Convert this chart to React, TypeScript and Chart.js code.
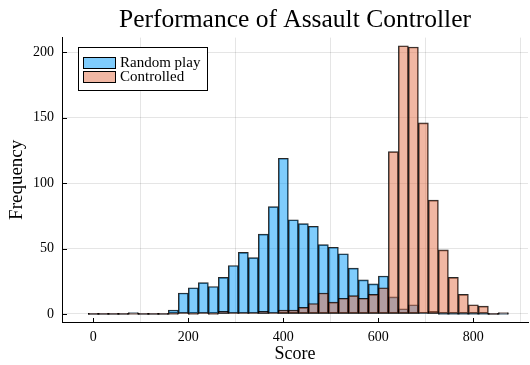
import React, { useEffect, useRef } from "react";
import { Chart, registerables } from "chart.js";
Chart.register(...registerables);

const FONT = "'Liberation Serif', 'Times New Roman', serif";

// Bin centres (bin width = 400/19)
const binCenters = [
  0, 21.05, 42.11, 63.16, 84.21, 105.26, 126.32, 147.37, 168.42, 189.47,
  210.53, 231.58, 252.63, 273.68, 294.74, 315.79, 336.84, 357.89, 378.95, 400,
  421.05, 442.11, 463.16, 484.21, 505.26, 526.32, 547.37, 568.42, 589.47, 610.53,
  631.58, 652.63, 673.68, 694.74, 715.79, 736.84, 757.89, 778.95, 800, 821.05,
  842.11, 863.16,
];

const randomPlay = [
  0, 0, 0, 0, 1, 0, 0, 0, 3, 16,
  20, 24, 21, 28, 37, 47, 43, 61, 82, 119,
  72, 69, 67, 53, 51, 46, 35, 26, 23, 29,
  13, 4, 7, 1, 2, 0, 0, 0, 0, 0,
  0, 0,
];

const controlled = [
  0, 0, 0, 0, 0, 0, 0, 0, 0, 1,
  0, 1, 0, 2, 1, 1, 1, 2, 1, 3,
  3, 5, 8, 16, 9, 12, 14, 12, 15, 20,
  124, 205, 204, 146, 87, 49, 28, 15, 7, 6,
  0, 1,
];

const xTicks = [0, 200, 400, 600, 800];
const yTicks = [0, 50, 100, 150, 200];

const seriesLabels = ["Random play", "Controlled"];
const fillColors = ["rgba(0,154,250,0.5)", "rgba(227,111,71,0.5)"];

export default function App() {
  const ref = useRef<HTMLCanvasElement>(null);
  useEffect(() => {
    if (!ref.current) return;
    const innerTicks = {
      id: "innerTicks",
      afterDatasetsDraw(chart: any) {
        const { ctx, chartArea, scales } = chart;
        ctx.save();
        ctx.strokeStyle = "#000";
        ctx.lineWidth = 1;
        ctx.beginPath();
        for (const t of xTicks) {
          const px = Math.round(scales.x.getPixelForValue(t)) + 0.5;
          ctx.moveTo(px, chartArea.bottom);
          ctx.lineTo(px, chartArea.bottom - 4);
        }
        for (const t of yTicks) {
          const py = Math.round(scales.y.getPixelForValue(t)) + 0.5;
          ctx.moveTo(chartArea.left, py);
          ctx.lineTo(chartArea.left + 5, py);
        }
        ctx.stroke();
        // legend
        const bx = 78.5, by = 47.5, bw = 129, bh = 43;
        ctx.fillStyle = "#fff";
        ctx.fillRect(bx, by, bw, bh);
        ctx.strokeStyle = "#000";
        ctx.strokeRect(bx, by, bw, bh);
        ctx.font = `15px ${FONT}`;
        ctx.textBaseline = "middle";
        ctx.textAlign = "left";
        seriesLabels.forEach((lab, i) => {
          const sy = 57.5 + i * 14;
          ctx.fillStyle = "#fff";
          ctx.fillRect(83.5, sy, 32, 11);
          ctx.fillStyle = fillColors[i];
          ctx.fillRect(83.5, sy, 32, 11);
          ctx.strokeStyle = "#000";
          ctx.strokeRect(83.5, sy, 32, 11);
          ctx.fillStyle = "#000";
          ctx.fillText(lab, 120, sy + 6);
        });
        ctx.restore();
      },
    };

    const mk = (arr: number[]) => binCenters.map((x, i) => ({ x, y: arr[i] }));

    const common = {
      borderColor: "rgba(0,0,0,0.85)",
      borderWidth: 1,
      borderSkipped: false,
      grouped: false,
      barPercentage: 1,
      categoryPercentage: 1,
      minBarLength: 1,
    };

    const chart = new Chart(ref.current, {
      type: "bar",
      data: {
        datasets: [
          {
            ...common,
            label: seriesLabels[0],
            data: mk(randomPlay),
            backgroundColor: fillColors[0],
            order: 2,
          } as any,
          {
            ...common,
            label: seriesLabels[1],
            data: mk(controlled),
            backgroundColor: fillColors[1],
            order: 1,
          } as any,
        ],
      },
      options: {
        responsive: false,
        animation: false,
        layout: { padding: { left: 0, right: 2, top: 0, bottom: 0 } },
        plugins: {
          legend: { display: false },
          tooltip: { enabled: false },
          title: {
            display: true,
            text: "Performance of Assault Controller",
            fullSize: false,
            color: "#000",
            font: { family: FONT, size: 25.5, weight: "normal" },
            padding: { top: 5, bottom: 2 },
          },
        },
        scales: {
          x: {
            type: "linear",
            min: -66,
            max: 915,
            offset: false,
            afterBuildTicks: (s: any) => {
              s.ticks = xTicks.map((v) => ({ value: v }));
            },
            afterFit: (s: any) => {
              s.height = 43;
            },
            grid: { color: "rgba(0,0,0,0.1)", drawTicks: false },
            border: { display: true, color: "#000", width: 1 },
            ticks: {
              color: "#000",
              padding: 7,
              maxRotation: 0,
              font: { family: FONT, size: 14 },
            },
            title: {
              display: true,
              text: "Score",
              color: "#000",
              font: { family: FONT, size: 18 },
              padding: { top: 0, bottom: 0 },
            },
          },
          y: {
            min: -6.15,
            max: 211.2,
            afterBuildTicks: (s: any) => {
              s.ticks = yTicks.map((v) => ({ value: v }));
            },
            afterFit: (s: any) => {
              s.width = 62;
            },
            grid: { color: "rgba(0,0,0,0.1)", drawTicks: false },
            border: { display: true, color: "#000", width: 1 },
            ticks: {
              color: "#000",
              padding: 8,
              font: { family: FONT, size: 14 },
            },
            title: {
              display: true,
              text: "Frequency",
              color: "#000",
              font: { family: FONT, size: 19 },
              padding: { top: 6, bottom: 0 },
            },
          },
        },
      },
      plugins: [innerTicks],
    });
    return () => chart.destroy();
  }, []);
  return (
    <canvas
      ref={ref}
      width={530}
      height={365}
      style={{ position: "absolute", left: 0, top: 0, width: 530, height: 365 }}
    />
  );
}
